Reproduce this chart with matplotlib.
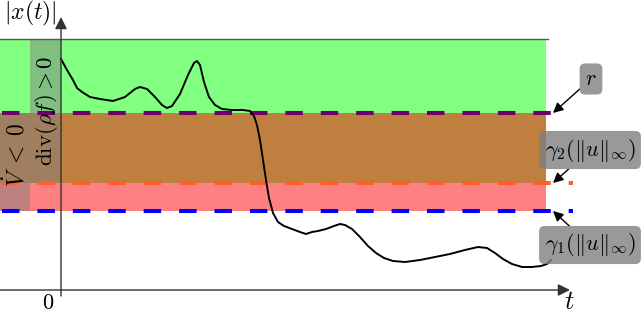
import matplotlib
matplotlib.use("Agg")
import matplotlib.pyplot as plt

plt.rcParams['mathtext.fontset'] = 'cm'
plt.rcParams['lines.scale_dashes'] = False

# trajectory |x(t)|
t_vals = [0, 0.06, 0.12, 0.16, 0.21, 0.29, 0.39, 0.52, 0.64, 0.74, 0.79, 0.86, 0.94, 1.01,
          1.06, 1.11, 1.19, 1.27, 1.33, 1.36, 1.39, 1.43, 1.48, 1.54, 1.61, 1.71, 1.82, 1.89,
          1.93, 1.96, 1.99, 2.02, 2.05, 2.08, 2.12, 2.17, 2.23, 2.31, 2.39, 2.45, 2.51, 2.57,
          2.65, 2.73, 2.79, 2.84, 2.91, 2.99, 3.07, 3.15, 3.23, 3.32, 3.44, 3.59, 3.74, 3.89,
          4.04, 4.17, 4.26, 4.34, 4.42, 4.51, 4.61, 4.71, 4.80, 4.86, 4.90]
x_vals = [2.31, 2.20, 2.10, 2.02, 1.98, 1.93, 1.91, 1.89, 1.93, 2.01, 2.03, 2.01, 1.93, 1.85,
          1.82, 1.84, 1.96, 2.15, 2.27, 2.29, 2.25, 2.08, 1.93, 1.85, 1.81, 1.80, 1.80, 1.79,
          1.74, 1.65, 1.50, 1.30, 1.10, 0.92, 0.77, 0.68, 0.64, 0.61, 0.58, 0.56, 0.58, 0.59,
          0.61, 0.64, 0.66, 0.65, 0.61, 0.53, 0.44, 0.37, 0.32, 0.29, 0.28, 0.30, 0.33, 0.36,
          0.40, 0.43, 0.42, 0.37, 0.31, 0.26, 0.23, 0.23, 0.24, 0.26, 0.30]

# levels
top = 2.51
r_level = 1.77
gamma2 = 1.07
gamma1 = 0.79
t_left = -0.61
t_band_end = 4.85
t_split = -0.31

fig = plt.figure(figsize=(6.44, 3.16), dpi=100)
ax = fig.add_axes([0, 0, 1, 1])
ax.set_xlim(-0.61, 5.83)
ax.set_ylim(-0.26, 2.90)
ax.axis('off')

# bands
ax.fill_between([t_left, t_band_end], r_level, top, color='#80ff80', lw=0, zorder=1)
ax.fill_between([t_left, t_band_end], gamma2, r_level, color='#bf7f3f', lw=0, zorder=1)
ax.fill_between([t_left, t_band_end], gamma1, gamma2, color='#ff8080', lw=0, zorder=1)

# grey overlays
ax.fill_between([t_split, 0], gamma2, top, color='gray', alpha=0.5, lw=0, zorder=2)
ax.fill_between([t_left, t_split], gamma1, r_level, color='gray', alpha=0.5, lw=0, zorder=2)

ax.plot([t_left, 4.87], [top, top], color='#555555', lw=1, zorder=3)

# dashed levels
dash = (12.6, 12.9)
ax.plot([-0.59, 4.94], [r_level, r_level], color='#6e006e', lw=2.9, dashes=dash, zorder=4)
ax.plot([-0.59, 5.12], [gamma2, gamma2], color='#ff5f2f', lw=2.9, dashes=dash, zorder=4)
ax.plot([-0.59, 5.12], [gamma1, gamma1], color='#0000ff', lw=2.9, dashes=dash, zorder=4)

# trajectory
ax.plot(t_vals, x_vals, color='black', lw=1.4, solid_joinstyle='round', zorder=5)

# axes
ax.annotate('', xy=(0, 2.73), xytext=(0, -0.06),
            arrowprops=dict(arrowstyle='-|>', color='#333333', lw=1, mutation_scale=18,
                            shrinkA=0, shrinkB=0), zorder=6)
ax.annotate('', xy=(5.09, 0), xytext=(t_left, 0),
            arrowprops=dict(arrowstyle='-|>', color='#333333', lw=1, mutation_scale=18,
                            shrinkA=0, shrinkB=0), zorder=6)

ax.text(-0.31, 2.77, r'$|x(t)|$', fontsize=17, ha='center', va='center')
ax.text(-0.13, -0.13, r'$0$', fontsize=16, ha='center', va='center')
ax.text(5.08, -0.12, r'$t$', fontsize=19, ha='center', va='center')

ax.text(-0.15, 1.79, r'$\mathrm{div}(\rho f) > 0$', fontsize=16.5, rotation=90,
        ha='center', va='center', zorder=6)
ax.text(-0.45, 1.35, r'$\dot{V}\;<\;0$', fontsize=17, rotation=90,
        ha='center', va='center', zorder=6)

# labels with arrows
box = dict(boxstyle='round,pad=0.25', fc='gray', ec='none', alpha=0.8)
arrow = dict(arrowstyle='-|>', color='black', lw=1, mutation_scale=15, shrinkA=0, shrinkB=0)
ax.annotate(r'$r$', xy=(4.92, r_level), xytext=(5.30, 2.11), fontsize=16,
            ha='center', va='center', bbox=box, arrowprops=arrow, zorder=7)
ax.annotate(r'$\gamma_2(\|u\|_\infty)$', xy=(4.92, gamma2), xytext=(5.29, 1.40), fontsize=16,
            ha='center', va='center', bbox=box, arrowprops=arrow, zorder=7)
ax.annotate(r'$\gamma_1(\|u\|_\infty)$', xy=(4.92, gamma1), xytext=(5.29, 0.45), fontsize=16,
            ha='center', va='center', bbox=box, arrowprops=arrow, zorder=7)

fig.savefig('out.png', dpi=100)
